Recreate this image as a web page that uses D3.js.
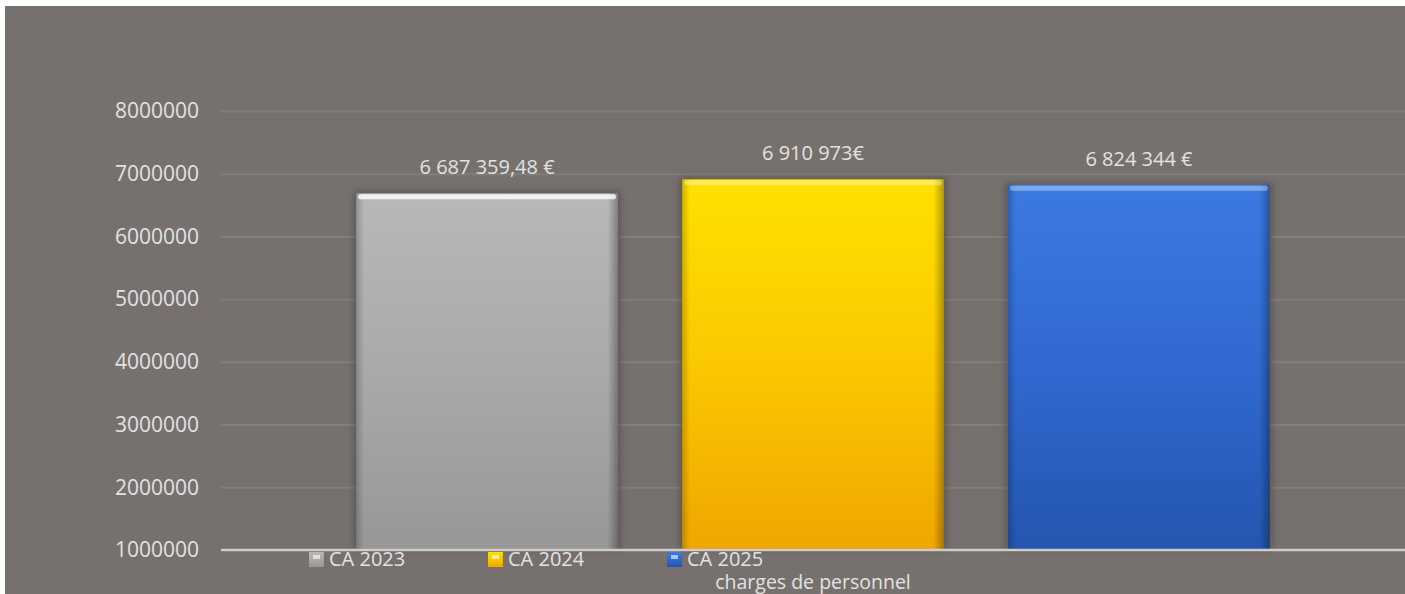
<!DOCTYPE html>
<html>
<head>
<meta charset="utf-8">
<script src="https://cdn.jsdelivr.net/npm/d3@7"></script>
<style>
  body { margin: 0; background: #fff; }
  svg { display: block; font-family: "Open Sans", sans-serif; }
</style>
</head>
<body>
<script>
// data
var categories = ["charges de personnel"];
var series = ["CA 2023", "CA 2024", "CA 2025"];
var values = [6687359.48, 6910973, 6824344];
var valueLabels = ["6 687 359,48 €", "6 910 973€", "6 824 344 €"];
var yTicks = [1000000, 2000000, 3000000, 4000000, 5000000, 6000000, 7000000, 8000000];

var width = 1405, height = 594;
var margin = {top: 111, right: 0, bottom: 44, left: 221};
var plotW = width - margin.left - margin.right,
    plotH = height - margin.top - margin.bottom;

var colors = {
  "CA 2023": ["#b8b8b8", "#a9a9a9", "#979797"],
  "CA 2024": ["#ffe100", "#fbc800", "#efa600"],
  "CA 2025": ["#3b7ae2", "#3069d0", "#2455b0"]
};

var svg = d3.select("body").append("svg")
    .attr("width", width)
    .attr("height", height);

var defs = svg.append("defs");

series.forEach(function(s, i) {
  var g = defs.append("linearGradient")
      .attr("id", "grad" + i)
      .attr("x1", 0).attr("y1", 0).attr("x2", 0).attr("y2", 1);
  g.append("stop").attr("offset", "0%").attr("stop-color", colors[s][0]);
  g.append("stop").attr("offset", "50%").attr("stop-color", colors[s][1]);
  g.append("stop").attr("offset", "100%").attr("stop-color", colors[s][2]);
});

// side shading for the bevel look
var side = defs.append("linearGradient")
    .attr("id", "side")
    .attr("x1", 0).attr("y1", 0).attr("x2", 1).attr("y2", 0);
side.append("stop").attr("offset", "0%").attr("stop-color", "#000").attr("stop-opacity", 0.2);
side.append("stop").attr("offset", "3%").attr("stop-color", "#000").attr("stop-opacity", 0);
side.append("stop").attr("offset", "96%").attr("stop-color", "#000").attr("stop-opacity", 0);
side.append("stop").attr("offset", "100%").attr("stop-color", "#000").attr("stop-opacity", 0.3);

defs.append("filter")
    .attr("id", "shadow")
    .attr("x", "-10%").attr("y", "-10%").attr("width", "120%").attr("height", "120%")
  .append("feGaussianBlur")
    .attr("stdDeviation", 3);

// background (thin white border at top and left)
svg.append("rect")
    .attr("x", 5).attr("y", 6)
    .attr("width", width - 5).attr("height", height - 6)
    .attr("fill", "#76716f");

var g = svg.append("g")
    .attr("transform", "translate(" + margin.left + "," + margin.top + ")");

var x0 = d3.scaleBand()
    .domain(categories)
    .range([0, plotW])
    .paddingInner(0)
    .paddingOuter(0.148);

var x1 = d3.scaleBand()
    .domain(series)
    .range([0, x0.bandwidth()])
    .paddingInner(0.197)
    .paddingOuter(0);

var y = d3.scaleLinear()
    .domain([1000000, 8000000])
    .range([plotH, 0]);

// gridlines (faint)
g.append("g")
    .attr("class", "grid")
    .selectAll("line")
    .data(yTicks.slice(1))
  .enter().append("line")
    .attr("x1", 0).attr("x2", plotW)
    .attr("y1", function(d) { return y(d) + 0.5; })
    .attr("y2", function(d) { return y(d) + 0.5; })
    .attr("stroke", "#837e7a")
    .attr("stroke-width", 2);

// y axis labels
var yAxis = g.append("g")
    .call(d3.axisLeft(y).tickValues(yTicks).tickFormat(d3.format("d")).tickSize(0).tickPadding(22));
yAxis.select(".domain").remove();
yAxis.selectAll("text")
    .attr("fill", "#e4e2e0")
    .attr("font-size", "21px")
    .attr("font-family", "'Open Sans', sans-serif");

var bars = g.selectAll(".cat")
    .data(categories)
  .enter().append("g")
    .attr("class", "cat")
    .attr("transform", function(d) { return "translate(" + x0(d) + ",0)"; });

var rows = series.map(function(s, i) { return {key: s, value: values[i], label: valueLabels[i], i: i}; });

// shadow behind bars
bars.selectAll(".shadow")
    .data(rows)
  .enter().append("rect")
    .attr("x", function(d) { return x1(d.key) - 3; })
    .attr("y", function(d) { return y(d.value) - 2; })
    .attr("width", x1.bandwidth() + 6)
    .attr("height", function(d) { return plotH - y(d.value) + 2; })
    .attr("fill", "#3f3b39")
    .attr("opacity", 0.45)
    .attr("filter", "url(#shadow)");

bars.selectAll(".bar")
    .data(rows)
  .enter().append("rect")
    .attr("class", "bar")
    .attr("x", function(d) { return x1(d.key); })
    .attr("y", function(d) { return y(d.value); })
    .attr("width", x1.bandwidth())
    .attr("height", function(d) { return plotH - y(d.value); })
    .attr("fill", function(d) { return "url(#grad" + d.i + ")"; });

bars.selectAll(".bevel")
    .data(rows)
  .enter().append("rect")
    .attr("x", function(d) { return x1(d.key); })
    .attr("y", function(d) { return y(d.value); })
    .attr("width", x1.bandwidth())
    .attr("height", function(d) { return plotH - y(d.value); })
    .attr("fill", "url(#side)");

// top highlight
bars.selectAll(".hl")
    .data(rows)
  .enter().append("rect")
    .attr("x", function(d) { return x1(d.key) + 2; })
    .attr("y", function(d) { return y(d.value) + 1; })
    .attr("width", x1.bandwidth() - 4)
    .attr("height", 5)
    .attr("rx", 2)
    .attr("fill", "#fff")
    .attr("opacity", function(d) { return d.i === 0 ? 0.8 : 0.35; });

bars.selectAll(".lbl")
    .data(rows)
  .enter().append("text")
    .attr("x", function(d) { return x1(d.key) + x1.bandwidth() / 2; })
    .attr("y", function(d) { return y(d.value) - 19; })
    .attr("text-anchor", "middle")
    .attr("fill", "#e4e2e0")
    .attr("font-size", "20px")
    .text(function(d) { return d.label; });

// baseline
g.append("line")
    .attr("x1", 0).attr("x2", plotW)
    .attr("y1", plotH).attr("y2", plotH)
    .attr("stroke", "#cfcbc8")
    .attr("stroke-width", 2.5);

// legend
var legend = svg.append("g")
    .attr("transform", "translate(309,552)");
var item = legend.selectAll(".item")
    .data(rows)
  .enter().append("g")
    .attr("transform", function(d) { return "translate(" + d.i * 179 + ",0)"; });
item.append("rect")
    .attr("width", 15).attr("height", 15)
    .attr("fill", function(d) { return "url(#grad" + d.i + ")"; });
item.append("rect")
    .attr("width", 15).attr("height", 15)
    .attr("fill", "url(#side)");
item.append("rect")
    .attr("x", 4).attr("y", 3).attr("width", 7).attr("height", 4)
    .attr("fill", "#fff").attr("opacity", 0.6);
item.append("text")
    .attr("x", 20).attr("y", 14)
    .attr("fill", "#e4e2e0")
    .attr("font-size", "20px")
    .text(function(d) { return d.key; });

// category label
g.selectAll(".catlabel")
    .data(categories)
  .enter().append("text")
    .attr("x", function(d) { return x0(d) + x0.bandwidth() / 2; })
    .attr("y", plotH + 39)
    .attr("text-anchor", "middle")
    .attr("fill", "#e4e2e0")
    .attr("font-size", "19.5px")
    .text(function(d) { return d; });
</script>
</body>
</html>
